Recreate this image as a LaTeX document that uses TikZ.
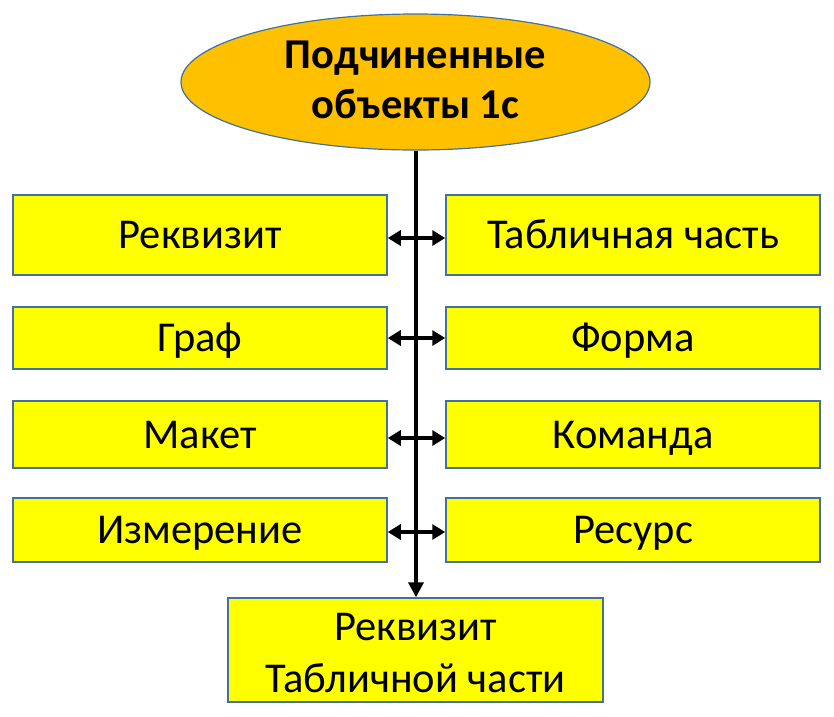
\documentclass[tikz,border=0pt]{standalone}
\usepackage{fontspec}
\setmainfont{Carlito}
\usetikzlibrary{arrows.meta,shapes.geometric}
\definecolor{bord}{HTML}{41719C}
\definecolor{gold}{HTML}{FFC000}
\definecolor{yel}{HTML}{FFFF00}
\begin{document}
\begin{tikzpicture}[x=1pt,y=-1pt,
  box/.style={draw=bord,fill=yel,line width=1.5pt,font=\fontsize{42.5}{51.5}\selectfont,align=center,inner sep=0pt,text height=27.4pt,text depth=0pt},
  link/.style={line width=4.5pt,{Triangle[length=13pt,width=15pt]}-{Triangle[length=13pt,width=15pt]}}]
\useasboundingbox (0,0) rectangle (834,716);
\node[ellipse,draw=bord,fill=gold,line width=1.2pt,minimum width=469pt,minimum height=136pt,inner sep=0pt,align=center,text height=72pt,text depth=0pt,font=\bfseries\fontsize{42.5}{50}\selectfont] (top) at (415.5,82) {Подчиненные\\объекты 1с};
\node[box,minimum width=374pt,minimum height=80pt] (l1) at (200,235) {Реквизит};
\node[box,minimum width=374pt,minimum height=80pt] (r1) at (633,235) {Табличная часть};
\node[box,minimum width=374pt,minimum height=62pt] (l2) at (200,338) {Граф};
\node[box,minimum width=374pt,minimum height=62pt] (r2) at (633,338) {Форма};
\node[box,minimum width=374pt,minimum height=67pt] (l3) at (200,434.5) {Макет};
\node[box,minimum width=374pt,minimum height=67pt] (r3) at (633,434.5) {Команда};
\node[box,minimum width=374pt,minimum height=64pt] (l4) at (200,530) {Измерение};
\node[box,minimum width=374pt,minimum height=64pt] (r4) at (633,530) {Ресурс};
\node[box,minimum width=375pt,minimum height=104pt,text height=84pt] (bot) at (415.5,650) {Реквизит\\Табличной части};
\draw[line width=4.5pt,-{Triangle[length=15pt,width=15pt]}] (top.south -| 416,0) -- (bot.north -| 416,0);
\draw[link] (l1.east |- 0,238) -- (r1.west |- 0,238);
\draw[link] (l2.east |- 0,338) -- (r2.west |- 0,338);
\draw[link] (l3.east |- 0,438) -- (r3.west |- 0,438);
\draw[link] (l4.east |- 0,532) -- (r4.west |- 0,532);
\end{tikzpicture}
\end{document}
